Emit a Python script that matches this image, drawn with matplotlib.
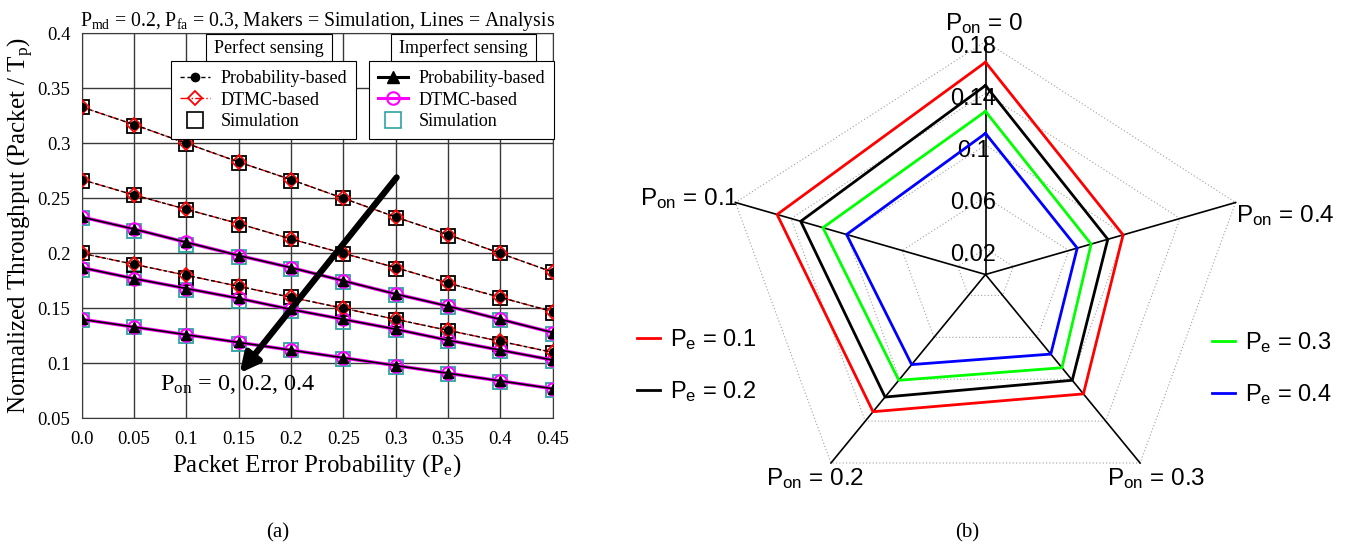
import numpy as np
import matplotlib
matplotlib.use("Agg")
import matplotlib.pyplot as plt
from matplotlib.lines import Line2D
from matplotlib.patches import Rectangle

plt.rcParams['mathtext.default'] = 'regular'
serif = ['Liberation Serif', 'DejaVu Serif']
sans = ['Liberation Sans', 'DejaVu Sans']

W, H = 1350, 549

# ---------------- (a) throughput vs packet error probability ----------------
pe = [0.0, 0.05, 0.1, 0.15, 0.2, 0.25, 0.3, 0.35, 0.4, 0.45]
pe_ticklabels = ['0.0', '0.05', '0.1', '0.15', '0.2', '0.25', '0.3', '0.35', '0.4', '0.45']
y_ticks = [0.05, 0.1, 0.15, 0.2, 0.25, 0.3, 0.35, 0.4]
y_ticklabels = ['0.05', '0.1', '0.15', '0.2', '0.25', '0.3', '0.35', '0.4']

# perfect sensing, Pon = 0, 0.2, 0.4
perf_prob_0 = [0.333, 0.317, 0.300, 0.283, 0.267, 0.250, 0.233, 0.217, 0.200, 0.183]
perf_prob_2 = [0.267, 0.253, 0.240, 0.227, 0.213, 0.200, 0.187, 0.173, 0.160, 0.147]
perf_prob_4 = [0.200, 0.190, 0.180, 0.170, 0.160, 0.150, 0.140, 0.130, 0.120, 0.110]
perf_dtmc_0 = [0.333, 0.317, 0.300, 0.283, 0.267, 0.250, 0.233, 0.217, 0.200, 0.183]
perf_dtmc_2 = [0.267, 0.253, 0.240, 0.227, 0.213, 0.200, 0.187, 0.173, 0.160, 0.147]
perf_dtmc_4 = [0.200, 0.190, 0.180, 0.170, 0.160, 0.150, 0.140, 0.130, 0.120, 0.110]
perf_sim_0 = [0.333, 0.316, 0.299, 0.282, 0.266, 0.250, 0.232, 0.216, 0.200, 0.183]
perf_sim_2 = [0.266, 0.253, 0.239, 0.226, 0.213, 0.199, 0.186, 0.173, 0.159, 0.146]
perf_sim_4 = [0.200, 0.189, 0.178, 0.169, 0.160, 0.149, 0.139, 0.129, 0.118, 0.109]

# imperfect sensing, Pon = 0, 0.2, 0.4
imp_prob_0 = [0.233, 0.222, 0.210, 0.198, 0.187, 0.175, 0.163, 0.152, 0.140, 0.128]
imp_prob_2 = [0.187, 0.177, 0.168, 0.159, 0.149, 0.140, 0.131, 0.121, 0.112, 0.103]
imp_prob_4 = [0.140, 0.133, 0.126, 0.119, 0.112, 0.105, 0.098, 0.091, 0.084, 0.077]
imp_dtmc_0 = [0.233, 0.222, 0.210, 0.198, 0.187, 0.175, 0.163, 0.152, 0.140, 0.128]
imp_dtmc_2 = [0.187, 0.177, 0.168, 0.159, 0.149, 0.140, 0.131, 0.121, 0.112, 0.103]
imp_dtmc_4 = [0.140, 0.133, 0.126, 0.119, 0.112, 0.105, 0.098, 0.091, 0.084, 0.077]
imp_sim_0 = [0.232, 0.220, 0.208, 0.197, 0.186, 0.174, 0.162, 0.151, 0.139, 0.127]
imp_sim_2 = [0.185, 0.178, 0.167, 0.157, 0.148, 0.138, 0.130, 0.120, 0.111, 0.102]
imp_sim_4 = [0.139, 0.133, 0.125, 0.118, 0.112, 0.104, 0.097, 0.090, 0.083, 0.076]

perf_prob = [perf_prob_0, perf_prob_2, perf_prob_4]
perf_dtmc = [perf_dtmc_0, perf_dtmc_2, perf_dtmc_4]
perf_sim = [perf_sim_0, perf_sim_2, perf_sim_4]
imp_prob = [imp_prob_0, imp_prob_2, imp_prob_4]
imp_dtmc = [imp_dtmc_0, imp_dtmc_2, imp_dtmc_4]
imp_sim = [imp_sim_0, imp_sim_2, imp_sim_4]

# ---------------- (b) radar: throughput per Pon ----------------
pon_labels = ['0', '0.1', '0.2', '0.3', '0.4']
radar_pe_labels = ['0.1', '0.2', '0.3', '0.4']
radar_pe01 = [0.164, 0.150, 0.131, 0.114, 0.099]
radar_pe02 = [0.146, 0.133, 0.117, 0.101, 0.088]
radar_pe03 = [0.126, 0.117, 0.101, 0.089, 0.076]
radar_pe04 = [0.109, 0.100, 0.086, 0.076, 0.066]
radar_rings = [0.02, 0.06, 0.1, 0.14, 0.18]

teal = '#2fa3a3'
fig = plt.figure(figsize=(W / 100, H / 100), dpi=100)

# left panel, pixel box: x 81.7..552.5, y 33.3..418.3
ax = fig.add_axes([81.7 / W, 1 - 418.3 / H, (552.5 - 81.7) / W, (418.3 - 33.3) / H])
ax.set_xlim(0, 0.45)
ax.set_ylim(0.05, 0.4)
ax.set_xticks(pe)
ax.set_xticklabels(pe_ticklabels, family=serif)
ax.set_yticks(y_ticks)
ax.set_yticklabels(y_ticklabels, family=serif)
ax.tick_params(axis='both', length=0, labelsize=13.5)
ax.tick_params(axis='x', pad=9)
ax.tick_params(axis='y', pad=8)
ax.grid(True, color='#3a3a3a', lw=1.0, ls='-')
ax.set_axisbelow(True)
for s in ax.spines.values():
    s.set_color('#3a3a3a')

for k in range(3):
    ax.plot(pe, perf_sim[k], ls='none', marker='s', ms=10.5, mfc='none', mec='black', mew=1.3, zorder=3)
    ax.plot(pe, perf_dtmc[k], ls='-.', color='red', lw=1.0, marker='D', ms=7.5, mfc='none',
            mec='red', mew=1.3, zorder=4)
    ax.plot(pe, perf_prob[k], ls='--', dashes=(3, 2), color='black', lw=1.0, marker='o', ms=5.5,
            mfc='black', mec='black', zorder=5)
    ax.plot(pe, imp_sim[k], ls='none', marker='s', ms=10.5, mfc='none', mec=teal, mew=1.3, zorder=3)
    ax.plot(pe, imp_dtmc[k], ls='-', color='magenta', lw=2.5, marker='o', ms=9, mfc='none',
            mec='magenta', mew=1.5, zorder=4)
    ax.plot(pe, imp_prob[k], ls='-', color='black', lw=1.2, marker='^', ms=6.5, mfc='black',
            mec='black', zorder=5)

# arrow pointing through the three Pon curves
arrow_tail = (0.301, 0.269)
arrow_tip = (0.151, 0.091)
ax.annotate('', xy=arrow_tip, xytext=arrow_tail,
            arrowprops=dict(arrowstyle='-|>', lw=4.5, color='black', mutation_scale=28,
                            shrinkA=0, shrinkB=0), zorder=6)
ax.text(0.075, 0.0803, 'P$_{on}$ = 0, 0.2, 0.4', fontsize=17.5, family=serif, va='center', zorder=6)

ax.set_title('P$_{md}$ = 0.2, P$_{fa}$ = 0.3, Makers = Simulation, Lines = Analysis',
             fontsize=14.2, family=serif, pad=3)
ax.set_xlabel('Packet Error Probability (P$_e$)', fontsize=18, family=serif, labelpad=3)
ax.set_ylabel('Normalized Throughput (Packet / T$_p$)', fontsize=18, family=serif, labelpad=1)

leg_kw = dict(loc='upper left', bbox_transform=fig.transFigure, prop={'family': serif, 'size': 13},
              frameon=True, fancybox=False, edgecolor='black', framealpha=1, borderpad=0.5,
              handlelength=1.65, handletextpad=0.6, labelspacing=0.25, borderaxespad=0)
h1 = [Line2D([], [], color='black', ls='--', dashes=(3, 2), lw=1, marker='o', ms=6, mfc='black'),
      Line2D([], [], color='red', ls='-.', lw=1, marker='D', ms=7.5, mfc='none', mec='red', mew=1.3),
      Line2D([], [], ls='none', marker='s', ms=11, mfc='none', mec='black', mew=1.2)]
leg1 = ax.legend(h1, ['Probability-based', 'DTMC-based', 'Simulation'],
                 bbox_to_anchor=(170.7 / W, 1 - 61 / H), **leg_kw)
leg1.get_frame().set_linewidth(0.8)
ax.add_artist(leg1)
h2 = [Line2D([], [], color='black', ls='-', lw=2.2, marker='^', ms=8, mfc='black'),
      Line2D([], [], color='magenta', ls='-', lw=2.2, marker='o', ms=9, mfc='none', mec='magenta', mew=1.5),
      Line2D([], [], ls='none', marker='s', ms=11, mfc='none', mec=teal, mew=1.2)]
leg2 = ax.legend(h2, ['Probability-based', 'DTMC-based', 'Simulation'],
                 bbox_to_anchor=(369 / W, 1 - 61 / H), **leg_kw)
leg2.get_frame().set_linewidth(0.8)

# legend title boxes
for x0, x1, txt in [(206, 331.7, 'Perfect sensing'), (390.7, 535.7, 'Imperfect sensing')]:
    fig.add_artist(Rectangle((x0 / W, 1 - 61 / H), (x1 - x0) / W, 26.7 / H, transform=fig.transFigure,
                             fc='white', ec='black', lw=0.8, zorder=10))
    fig.text((x0 + x1) / 2 / W, 1 - 48 / H, txt, ha='center', va='center', fontsize=13,
             family=serif, zorder=11)

fig.text(278 / W, 1 - 533 / H, '(a)', ha='center', va='center', fontsize=15, family=serif)
fig.text(967 / W, 1 - 533 / H, '(b)', ha='center', va='center', fontsize=15, family=serif)

# right panel: radar drawn in a stretched cartesian frame (outer ring = 1)
rax = fig.add_axes([600 / W, 0, 750 / W, 1])
rax.set_xlim(-1.466, 1.386)
rax.set_ylim(-1.178, 1.178)
rax.axis('off')

rmax = radar_rings[-1]
theta = np.deg2rad(90 + 72 * np.arange(len(pon_labels)))
ct = np.append(np.cos(theta), np.cos(theta[0]))
st = np.append(np.sin(theta), np.sin(theta[0]))

for r in radar_rings:
    rax.plot(r / rmax * ct, r / rmax * st, ls=':', dashes=(1, 2), color='#a0a0a0', lw=0.8, zorder=1)
for t in theta:
    rax.plot([0, np.cos(t)], [0, np.sin(t)], color='black', lw=1.2, zorder=3)

for r in radar_rings:
    rax.annotate(f'{r:g}', xy=(0, r / rmax), xytext=(-12, -6), textcoords='offset pixels',
                 ha='center', va='center', fontsize=17, family=sans, zorder=2)

# (ha, va, dx, dy) for each axis label
label_style = [('center', 'bottom', -1, 5), ('right', 'baseline', 3, -3), ('center', 'top', -16, -3),
               ('center', 'top', 16, -3), ('left', 'top', 0, -1)]
for t, lab, (ha, va, dx, dy) in zip(theta, pon_labels, label_style):
    rax.annotate('P$_{on}$ = ' + lab, xy=(np.cos(t), np.sin(t)), xytext=(dx, dy),
                 textcoords='offset pixels', ha=ha, va=va, fontsize=17.5, family=sans)

radar_series = [radar_pe01, radar_pe02, radar_pe03, radar_pe04]
radar_colors = ['#ff0000', '#000000', '#00ff00', '#0000ff']
lines = []
for vals, col in zip(radar_series, radar_colors):
    f = np.append(vals, vals[0]) / rmax
    ln, = rax.plot(f * ct, f * st, color=col, lw=2.0, zorder=4)
    lines.append(ln)

rleg_kw = dict(loc='center left', bbox_transform=fig.transFigure, prop={'family': sans, 'size': 17},
               frameon=False, borderpad=0, borderaxespad=0, handlelength=1.0, handletextpad=0.4,
               labelspacing=1.15)
names = ['P$_e$ = ' + p for p in radar_pe_labels]
lg1 = rax.legend(lines[:2], names[:2], bbox_to_anchor=(636.7 / W, 1 - 366 / H), **rleg_kw)
rax.add_artist(lg1)
rax.legend(lines[2:], names[2:], bbox_to_anchor=(1211.7 / W, 1 - 369 / H), **rleg_kw)

fig.savefig('out.png', dpi=100)
